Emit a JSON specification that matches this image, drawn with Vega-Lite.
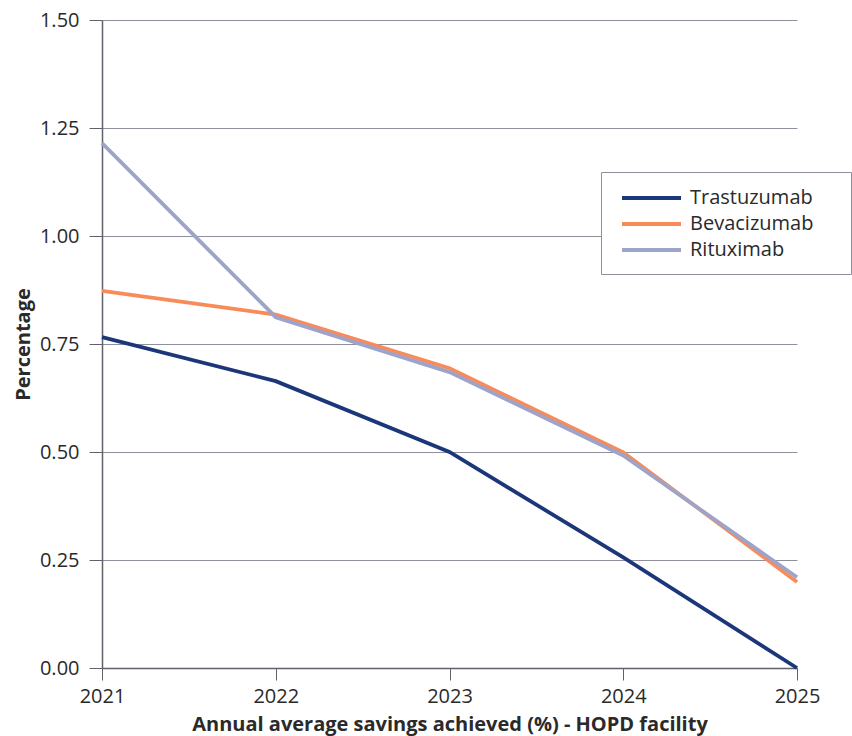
{
  "$schema": "https://vega.github.io/schema/vega-lite/v6.json",
  "width": 695,
  "height": 648,
  "autosize": {"type": "none"},
  "padding": {"left": 102, "top": 20, "right": 55, "bottom": 68},
  "background": "white",
  "config": {
    "font": "Open Sans",
    "view": {"stroke": null},
    "axis": {
      "labelFont": "Open Sans",
      "titleFont": "Open Sans",
      "labelFontSize": 20,
      "titleFontSize": 20,
      "labelColor": "#2a2a2a",
      "titleColor": "#2a2a2a",
      "domainColor": "#5f626b",
      "tickColor": "#5f626b",
      "gridColor": "#8e909b",
      "gridWidth": 1,
      "domainWidth": 1.5
    }
  },
  "data": {
    "values": [
      {"year": "2021", "drug": "Trastuzumab", "value": 0.766},
      {"year": "2022", "drug": "Trastuzumab", "value": 0.664},
      {"year": "2023", "drug": "Trastuzumab", "value": 0.5},
      {"year": "2024", "drug": "Trastuzumab", "value": 0.256},
      {"year": "2025", "drug": "Trastuzumab", "value": 0.0},
      {"year": "2021", "drug": "Bevacizumab", "value": 0.873},
      {"year": "2022", "drug": "Bevacizumab", "value": 0.818},
      {"year": "2023", "drug": "Bevacizumab", "value": 0.694},
      {"year": "2024", "drug": "Bevacizumab", "value": 0.499},
      {"year": "2025", "drug": "Bevacizumab", "value": 0.199},
      {"year": "2021", "drug": "Rituximab", "value": 1.215},
      {"year": "2022", "drug": "Rituximab", "value": 0.812},
      {"year": "2023", "drug": "Rituximab", "value": 0.685},
      {"year": "2024", "drug": "Rituximab", "value": 0.492},
      {"year": "2025", "drug": "Rituximab", "value": 0.21}
    ]
  },
  "mark": {"type": "line", "strokeWidth": 3.8, "strokeJoin": "miter"},
  "encoding": {
    "x": {
      "field": "year",
      "type": "ordinal",
      "scale": {"type": "point", "padding": 0},
      "axis": {
        "title": "Annual average savings achieved (%) - HOPD facility",
        "titleFontWeight": "bold",
        "labelAngle": 0,
        "tickSize": 12,
        "labelPadding": 6,
        "titlePadding": 8,
        "grid": false
      }
    },
    "y": {
      "field": "value",
      "type": "quantitative",
      "scale": {"domain": [0, 1.5]},
      "axis": {
        "title": "Percentage",
        "titleFontWeight": "bold",
        "values": [0, 0.25, 0.5, 0.75, 1, 1.25, 1.5],
        "format": ".2f",
        "tickSize": 13,
        "labelPadding": 10,
        "titlePadding": 6,
        "grid": true
      }
    },
    "color": {
      "field": "drug",
      "type": "nominal",
      "sort": ["Trastuzumab", "Bevacizumab", "Rituximab"],
      "scale": {
        "domain": ["Trastuzumab", "Bevacizumab", "Rituximab"],
        "range": ["#1c367a", "#f98b58", "#9ea3c9"]
      },
      "legend": {
        "title": null,
        "orient": "none",
        "legendX": 499,
        "legendY": 152,
        "symbolType": "M-0.5,0H5.4M20.2,0L20.2,0",
        "symbolSize": 400,
        "symbolStrokeWidth": 4,
        "labelFontSize": 20,
        "labelFont": "Open Sans",
        "labelColor": "#2a2a2a",
        "labelOffset": 51,
        "rowPadding": 4,
        "padding": 14,
        "strokeColor": "#8e909b",
        "fillColor": "white"
      }
    }
  }
}
